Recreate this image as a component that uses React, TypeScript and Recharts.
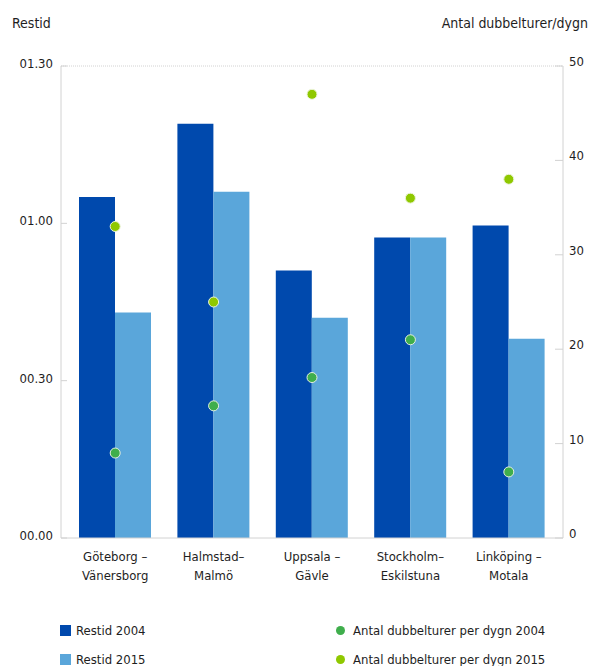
import { ComposedChart, Bar, Line, XAxis, YAxis, ReferenceLine } from 'recharts';

const categories = ['Göteborg –\nVänersborg', 'Halmstad–\nMalmö', 'Uppsala –\nGävle', 'Stockholm–\nEskilstuna', 'Linköping –\nMotala'];
// restid in minutes
const restid2004 = [65, 79, 51, 57.3, 59.6];
const restid2015 = [43, 66, 42, 57.3, 38];
// dubbelturer per dygn
const turer2004 = [9, 14, 17, 21, 7];
const turer2015 = [33, 25, 47, 36, 38];

const timeTicks = [0, 30, 60, 90];
const timeLabels = ['00.00', '00.30', '01.00', '01.30'];
const countTicks = [0, 10, 20, 30, 40, 50];

const legendBars = ['Restid 2004', 'Restid 2015'];
const legendDots = ['Antal dubbelturer per dygn 2004', 'Antal dubbelturer per dygn 2015'];

const DARK = '#0049ad';
const LIGHT = '#5aa6da';
const GREEN = '#3fae4c';
const LIME = '#8fc800';
const AXIS = '#d2d2d2';
const TEXT = '#1e1e1e';
const FONT = "'Liberation Sans Narrow', 'DejaVu Sans Condensed', sans-serif";

const data = categories.map((c, i) => ({
  name: c,
  r2004: restid2004[i],
  r2015: restid2015[i],
  t2004: turer2004[i],
  t2015: turer2015[i],
}));

function LeftTick({ x, y, payload }: any) {
  const i = timeTicks.indexOf(payload.value);
  return (
    <g>
      <line x1={x + 8} x2={x + 14} y1={y} y2={y} stroke={AXIS} />
      <text x={x} y={y} dy={2} textAnchor="end" fontSize={13} fill={TEXT} fontFamily={FONT}>
        {timeLabels[i]}
      </text>
    </g>
  );
}

function RightTick({ x, y, payload }: any) {
  return (
    <g>
      <line x1={x - 6} x2={x - 14} y1={y} y2={y} stroke={AXIS} />
      <text x={x} y={y} dy={0} textAnchor="start" fontSize={13} fill={TEXT} fontFamily={FONT}>
        {payload.value}
      </text>
    </g>
  );
}

function CatTick({ x, y, payload }: any) {
  const lines = String(payload.value).split('\n');
  return (
    <g>
      {lines.map((l, i) => (
        <text key={i} x={x} y={y + 15 + i * 19} textAnchor="middle" fontSize={13} fill={TEXT} fontFamily={FONT}>
          {l}
        </text>
      ))}
    </g>
  );
}

export default function App() {
  return (
    <div style={{ position: 'absolute', left: 0, top: 0, width: 590, height: 666, background: '#fff', fontFamily: FONT, color: TEXT }}>
      <div style={{ position: 'absolute', left: 12, top: 15, fontSize: 14 }}>Restid</div>
      <div style={{ position: 'absolute', right: 2, top: 15, fontSize: 14 }}>Antal dubbelturer/dygn</div>
      <ComposedChart
        width={590}
        height={600}
        data={data}
        margin={{ top: 66, right: 0, left: 0, bottom: 0 }}
        barGap={0}
      >
        <XAxis
          dataKey="name"
          height={62}
          padding={{ left: 5, right: 5 }}
          axisLine={{ stroke: AXIS }}
          tickLine={false}
          tick={<CatTick />}
          interval={0}
        />
        <YAxis
          yAxisId="left"
          width={61}
          domain={[0, 90]}
          ticks={timeTicks}
          axisLine={{ stroke: AXIS }}
          tickSize={0}
          tickMargin={8}
          tick={<LeftTick />}
        />
        <YAxis
          yAxisId="right"
          orientation="right"
          width={27}
          domain={[0, 50]}
          ticks={countTicks}
          axisLine={{ stroke: AXIS }}
          tickSize={0}
          tickMargin={6}
          tick={<RightTick />}
        />
        <ReferenceLine yAxisId="left" y={90} stroke={AXIS} strokeDasharray="1 1" />
        <Bar yAxisId="left" dataKey="r2004" fill={DARK} barSize={36} isAnimationActive={false} />
        <Bar yAxisId="left" dataKey="r2015" fill={LIGHT} barSize={36} isAnimationActive={false} />
        <Line
          yAxisId="right"
          dataKey="t2004"
          stroke="none"
          dot={{ r: 5, fill: GREEN, stroke: '#e6efe0', strokeWidth: 1 }}
          activeDot={false}
          isAnimationActive={false}
        />
        <Line
          yAxisId="right"
          dataKey="t2015"
          stroke="none"
          dot={{ r: 5, fill: LIME, stroke: '#eef5dc', strokeWidth: 1 }}
          activeDot={false}
          isAnimationActive={false}
        />
      </ComposedChart>
      {legendBars.map((l, i) => (
        <div key={l} style={{ position: 'absolute', left: 60, top: 623 + i * 29, display: 'flex', alignItems: 'center', fontSize: 13 }}>
          <span style={{ width: 11, height: 11, background: i === 0 ? DARK : LIGHT, marginRight: 5, display: 'inline-block' }} />
          {l}
        </div>
      ))}
      {legendDots.map((l, i) => (
        <div key={l} style={{ position: 'absolute', left: 336, top: 623 + i * 29, display: 'flex', alignItems: 'center', fontSize: 13 }}>
          <span style={{ width: 9, height: 9, borderRadius: '50%', background: i === 0 ? GREEN : LIME, marginRight: 8, display: 'inline-block' }} />
          {l}
        </div>
      ))}
    </div>
  );
}
